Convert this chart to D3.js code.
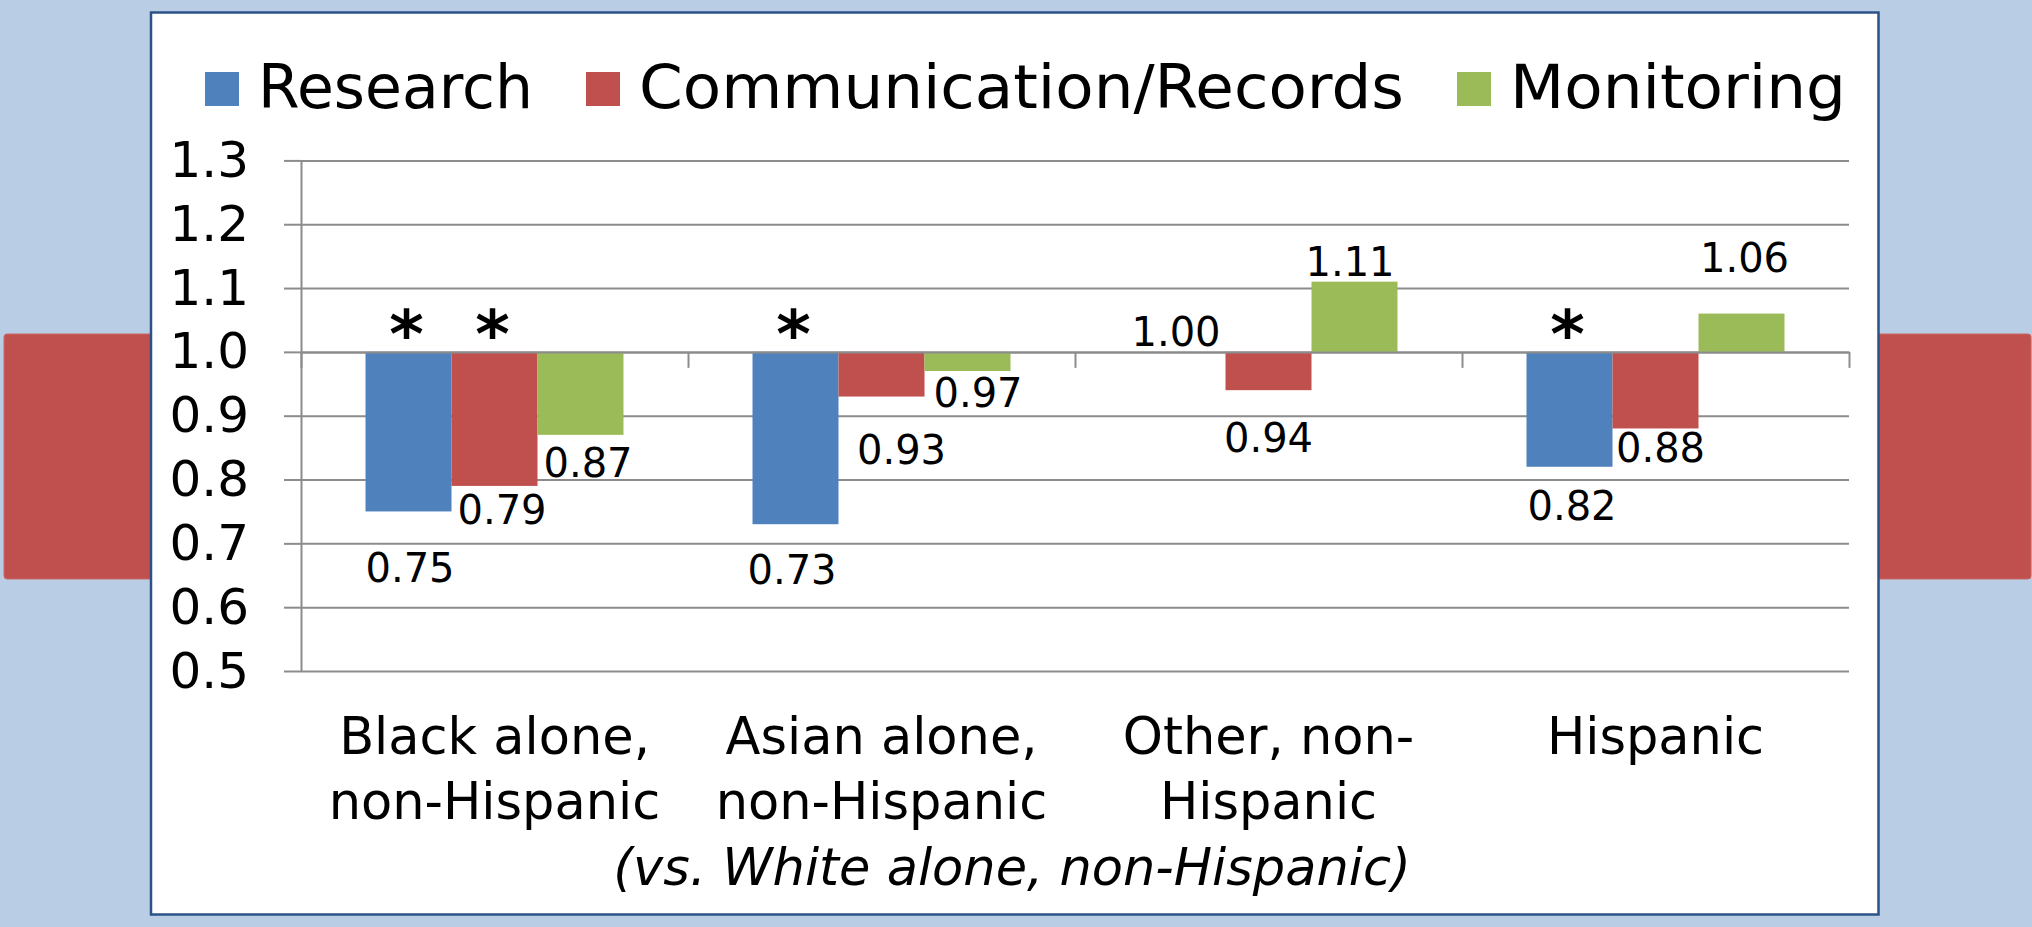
<!DOCTYPE html>
<html>
<head>
<meta charset="utf-8">
<script src="https://cdn.jsdelivr.net/npm/d3@7"></script>
<style>
  html, body { margin: 0; padding: 0; background: #b9cde5; }
  svg { display: block; }
  text { font-family: "DejaVu Sans", Verdana, sans-serif; fill: #000; }
</style>
</head>
<body>
<svg id="chart" width="2032" height="927"></svg>
<script>
// ---- data ----
const categories = ["Black alone, non-Hispanic", "Asian alone, non-Hispanic", "Other, non-Hispanic", "Hispanic"];
const categoryLines = [["Black alone,", "non-Hispanic"], ["Asian alone,", "non-Hispanic"], ["Other, non-", "Hispanic"], ["Hispanic"]];
const seriesNames = ["Research", "Communication/Records", "Monitoring"];
const research   = [0.75, 0.73, 1.00, 0.82];
const commRecords = [0.79, 0.93, 0.94, 0.88];
const monitoring = [0.87, 0.97, 1.11, 1.06];
// statistically significant differences (marked with *)
const researchSig   = [true, true, false, true];
const commRecordsSig = [true, false, false, false];
const monitoringSig = [false, false, false, false];
const yTicks = [0.5, 0.6, 0.7, 0.8, 0.9, 1.0, 1.1, 1.2, 1.3];
const axisTitle = "(vs. White alone, non-Hispanic)";
const baseline = 1.0;

// ---- styling ----
const seriesColors = ["#4f81bd", "#c0504d", "#9bbb59"];
// hand nudges for data label placement [dx, dy]
const researchNudge   = [[1.5, 35], [-3.5, 23.5], [-6.5, 0], [2.5, 17]];
const commRecordsNudge = [[7.5, 2], [20, 31], [0, 26], [5, -2]];
const monitoringNudge = [[7.5, 6], [10.5, 0], [-4.5, 0], [3, -36]];
// legend entry layout: square x and text width
const legendX = [205, 586, 1457];
const legendTextWidth = [275, 765, 336];

const seriesValues = [research, commRecords, monitoring];
const seriesSig = [researchSig, commRecordsSig, monitoringSig];
const seriesNudge = [researchNudge, commRecordsNudge, monitoringNudge];

const W = 2032, H = 927;
const gridColor = "#8c8c8c";
const svg = d3.select("#chart");

// slide background
svg.append("rect").attr("width", W).attr("height", H).attr("fill", "#b9cde5");
// red side blocks peeking out behind the chart panel
svg.append("rect").attr("x", 4).attr("y", 334).attr("width", 160).attr("height", 245)
  .attr("rx", 3).attr("fill", "#c0504d").attr("stroke", "#c86a67").attr("stroke-width", 1);
svg.append("rect").attr("x", 1866).attr("y", 334).attr("width", 165).attr("height", 245)
  .attr("rx", 3).attr("fill", "#c0504d").attr("stroke", "#c86a67").attr("stroke-width", 1);

// chart panel
svg.append("rect").attr("x", 151).attr("y", 12.5).attr("width", 1727.5).attr("height", 902)
  .attr("fill", "#ffffff").attr("stroke", "#2c5288").attr("stroke-width", 2.5);

// ---- scales ----
const plotLeft = 301, plotRight = 1849, plotTop = 160.4, plotBottom = 671;
const y = d3.scaleLinear().domain([0.5, 1.3]).range([plotBottom, plotTop]);
const x = d3.scaleBand().domain(categories).range([plotLeft, plotRight]).paddingInner(0).paddingOuter(0);
const xs = d3.scaleBand().domain(seriesNames).range([0, x.bandwidth()]).paddingInner(0).paddingOuter(0.75);

// gridlines
const grid = svg.append("g").attr("transform", `translate(${plotLeft},0)`)
  .call(d3.axisLeft(y).tickValues(yTicks).tickSize(-(plotRight - plotLeft)).tickFormat(""));
grid.select(".domain").remove();
grid.selectAll("line").attr("stroke", gridColor).attr("stroke-width", 2);

// bars
const barData = [];
seriesValues.forEach((vals, si) => {
  vals.forEach((v, ci) => {
    barData.push({ s: seriesNames[si], si, c: categories[ci], ci, v,
      sig: seriesSig[si][ci], nudge: seriesNudge[si][ci] });
  });
});
svg.append("g").selectAll("rect").data(barData).join("rect")
  .attr("x", d => x(d.c) + xs(d.s))
  .attr("width", xs.bandwidth())
  .attr("y", d => Math.min(y(d.v), y(baseline)))
  .attr("height", d => Math.abs(y(d.v) - y(baseline)))
  .attr("fill", d => seriesColors[d.si]);

// value axis
const yAxis = svg.append("g").attr("transform", `translate(${plotLeft},0)`)
  .call(d3.axisLeft(y).tickValues(yTicks).tickSize(17).tickSizeOuter(0).tickPadding(35)
    .tickFormat(d3.format(".1f")));
yAxis.select(".domain").attr("stroke", gridColor).attr("stroke-width", 2);
yAxis.selectAll("line").attr("stroke", gridColor).attr("stroke-width", 2);
yAxis.selectAll("text").attr("font-size", 50).attr("font-family", "DejaVu Sans, Verdana, sans-serif").attr("fill", "#000");

// category axis crossing at 1.0
const catPos = d3.scaleLinear().domain([0, categories.length]).range([plotLeft, plotRight]);
const xAxis = svg.append("g").attr("transform", `translate(0,${y(baseline)})`)
  .call(d3.axisBottom(catPos).tickValues(d3.range(categories.length + 1)).tickSize(16).tickSizeOuter(0).tickFormat(""));
xAxis.select(".domain").attr("stroke", gridColor).attr("stroke-width", 2);
xAxis.selectAll("line").attr("stroke", gridColor).attr("stroke-width", 2);

// category labels
const catLabels = svg.append("g").selectAll("text").data(categories).join("text")
  .attr("text-anchor", "middle")
  .attr("font-size", 51);
catLabels.each(function (c, i) {
  const t = d3.select(this);
  categoryLines[i].forEach((line, li) => {
    t.append("tspan").attr("x", x(c) + x.bandwidth() / 2).attr("y", 753.5 + li * 65).text(line);
  });
});

// axis title
svg.append("text").attr("x", 1012).attr("y", 885).attr("text-anchor", "middle")
  .attr("font-size", 51).attr("font-style", "italic").text(axisTitle);

// data labels
svg.append("g").selectAll("text").data(barData).join("text")
  .attr("text-anchor", "middle")
  .attr("font-size", 40)
  .attr("x", d => x(d.c) + xs(d.s) + xs.bandwidth() / 2 + d.nudge[0])
  .attr("y", d => (d.v < baseline ? y(d.v) + 36 : y(d.v) - 6) + d.nudge[1])
  .text(d => d3.format(".2f")(d.v));

// significance markers
svg.append("g").selectAll("text").data(barData.filter(d => d.sig)).join("text")
  .attr("text-anchor", "middle")
  .attr("font-size", 66)
  .attr("font-weight", "bold")
  .attr("x", d => x(d.c) + xs(d.s) + xs.bandwidth() / 2 - 2)
  .attr("y", d => y(baseline) + 5)
  .text("*");

// legend
const legend = svg.append("g");
seriesNames.forEach((name, i) => {
  legend.append("rect").attr("x", legendX[i]).attr("y", 72).attr("width", 34).attr("height", 34)
    .attr("fill", seriesColors[i]);
  legend.append("text").attr("x", legendX[i] + 34 + 19).attr("y", 108)
    .attr("font-size", 61)
    .attr("textLength", legendTextWidth[i]).attr("lengthAdjust", "spacingAndGlyphs")
    .text(name);
});
</script>
</body>
</html>
